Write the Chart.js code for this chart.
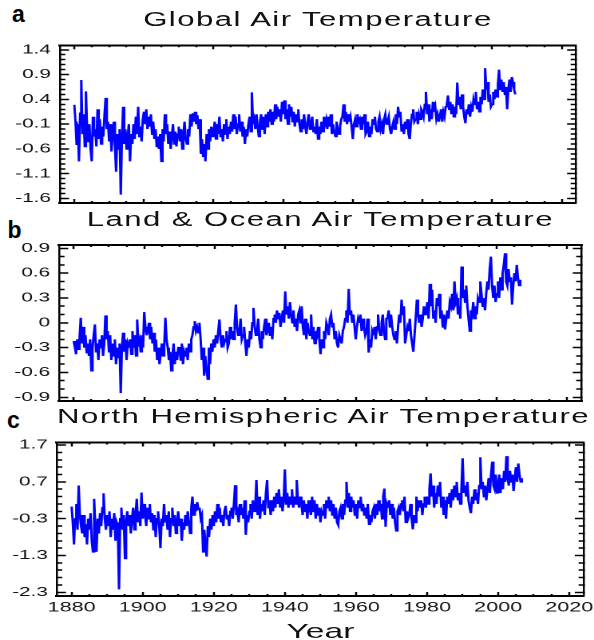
<!DOCTYPE html>
<html>
<head>
<meta charset="utf-8">
<script src="https://cdn.jsdelivr.net/npm/chart.js@4"></script>
<style>
html,body{margin:0;padding:0;background:#fff;}
body{width:594px;height:640px;position:relative;overflow:hidden;font-family:"Liberation Sans",Arial,sans-serif;}
#stretch{position:absolute;left:0;top:0;width:372px;height:640px;transform:scaleX(1.5968);transform-origin:0 0;}
.panel{position:absolute;left:0;width:372px;}
.title{position:absolute;font-size:19.5px;line-height:19.5px;letter-spacing:0.9px;text-align:center;white-space:nowrap;color:#111;}
.tag{position:absolute;font-weight:bold;font-size:23px;line-height:23px;color:#000;}
</style>
</head>
<body>
<div class="tag" style="left:12px;top:2.5px">a</div>
<div class="tag" style="left:7.5px;top:218.5px">b</div>
<div class="tag" style="left:7px;top:408.5px">c</div>
<div id="stretch">
  <div class="title" style="left:37.6px;width:323px;top:9.5px">Global Air Temperature</div>
  <div class="title" style="left:37.1px;width:327px;top:209.5px">Land &amp; Ocean Air Temperature</div>
  <div class="title" style="left:35.7px;width:330px;top:406.5px">North Hemispheric Air Temperature</div>
  <div class="panel" style="top:40px;height:170px"><canvas id="chartA"></canvas></div>
  <div class="panel" style="top:240px;height:170px"><canvas id="chartB"></canvas></div>
  <div class="panel" style="top:437px;height:203px"><canvas id="chartC"></canvas></div>
  <div class="title" style="left:35.7px;width:330px;top:620.2px;font-size:21px;line-height:21px;letter-spacing:0">Year</div>
</div>
<script>
// three samples per year, starting January 1880
const startYear = 1880;
const perYear = 3;

const globalTemp = [
 .29,-.05,-.52,-.1,-.85,.12,.79,-.3,.1,-.55,.56,-.2,-.45,-.1,-.6,-.85,.05,-.35,-.2,-.55,.2,-.4,0,-.5,-.15,-.35,.08,.43,-.2,-.05,
 -.45,-.1,-.65,-.3,-.05,-.55,-1.06,-.3,-.6,-.2,-1.52,-.4,.25,-.5,-.2,-.6,-.35,-.1,-.85,-.3,-.5,-.1,-.4,.05,-.3,.25,-.35,-.15,-.45,0,
 .15,-.1,.2,-.2,.05,-.15,.1,-.3,-.05,-.4,-.2,-.55,-.35,-.6,-.3,-.85,-.2,-.45,.1,-.3,-.1,-.5,-.25,-.6,-.35,-.1,-.5,-.25,-.55,-.3,
 -.15,-.45,-.2,-.6,-.3,-.05,-.4,-.5,-.2,-.35,.1,-.15,.12,-.05,.15,-.1,.08,-.2,0,-.7,-.4,-.75,-.5,-.85,-.3,-.6,-.2,-.45,-.15,-.35,
 -.25,-.05,-.4,-.1,-.3,.05,-.35,-.2,-.45,-.1,-.3,0,-.4,-.15,-.3,-.05,-.25,.1,-.2,.05,-.3,-.1,.1,-.25,-.05,-.35,-.15,-.5,-.2,-.35,
 -.1,.05,-.25,.54,-.1,0,-.2,.1,-.15,-.35,-.05,.1,-.2,.05,-.3,.1,-.15,.15,-.05,.2,-.1,.15,-.05,.3,0,.25,.05,.2,-.05,.35,
 .1,.38,0,.2,-.1,.3,.05,.25,-.05,.15,-.15,.1,-.05,.2,-.1,-.25,0,-.2,.1,-.15,-.3,-.05,.1,-.2,-.1,.05,-.25,-.15,-.3,0,
 -.4,-.15,-.3,-.05,-.25,.05,-.1,0,-.2,.05,-.15,.1,-.3,-.1,-.25,-.35,-.05,-.2,-.3,-.15,0,.05,.3,-.05,.15,-.1,.1,-.05,.05,-.15,
 -.4,-.1,0,-.15,.1,-.05,0,-.2,.05,-.1,.1,-.3,-.25,-.05,-.35,-.15,-.3,0,-.1,.05,-.2,-.25,-.05,.05,-.2,-.1,-.3,0,.1,-.1,
 -.05,.05,-.2,-.3,-.15,-.05,-.2,.1,-.1,.25,.05,.15,-.25,-.1,-.3,-.05,-.2,0,-.3,-.4,-.1,.1,.2,-.05,0,.15,-.1,.1,0,.2,
 .15,.05,.3,.55,.1,.3,-.05,.2,0,.35,.15,.25,0,.1,-.05,.05,.2,-.05,.15,.05,.25,.3,.48,.2,.35,.1,.3,.05,.25,.1,
 .74,.3,.45,.2,.5,.25,.05,-.08,.2,.1,.3,.05,.25,.15,.4,.3,.55,.2,.35,.15,.45,.3,.6,.4,1.03,.6,.75,.35,.5,.25,
 .3,.55,.4,.6,.45,.7,1,.6,.8,.55,.75,.5,.65,.2,.6,.8,.55,.85,.75,.6,.5
];

const landOceanTemp = [
 -.22,-.3,-.38,-.2,-.32,-.18,.06,-.25,-.05,-.3,-.15,-.36,-.25,-.4,-.2,-.58,-.3,-.15,-.02,-.35,-.25,-.45,-.2,-.3,-.15,-.4,-.25,.09,-.2,-.1,
 -.35,-.15,-.45,-.25,-.4,-.2,-.5,-.3,-.42,-.25,-.85,-.3,-.12,-.35,-.2,-.45,-.25,-.3,-.2,-.38,-.1,-.3,-.15,-.4,.04,-.25,-.2,-.35,-.15,-.3,
 .13,-.05,-.15,-.1,0,-.2,-.05,-.25,-.12,-.35,-.2,-.45,-.3,-.5,-.38,-.25,-.4,-.3,.06,-.2,-.3,-.45,-.35,-.58,-.4,-.25,-.5,-.35,-.45,-.3,
 -.3,-.45,-.25,-.5,-.35,-.4,-.3,-.45,-.25,-.35,-.2,-.15,-.05,.02,-.1,-.05,-.12,0,-.2,-.45,-.3,-.64,-.4,-.55,-.68,-.3,-.5,-.25,-.35,-.2,
 -.3,-.15,-.25,-.1,.04,-.2,-.3,-.15,-.25,-.2,-.1,-.3,-.25,-.05,-.2,-.1,-.2,0,.22,-.05,-.15,-.1,.05,-.2,-.15,-.05,-.25,-.4,-.2,-.3,
 -.1,-.2,0,.18,-.05,-.15,-.1,.05,-.2,-.3,-.1,-.2,-.05,.05,-.15,-.1,0,-.15,-.05,-.2,.05,.1,0,.15,.05,.12,-.05,.05,.15,0,
 .38,.1,.2,.05,.25,.1,0,.15,-.05,.05,-.1,.1,.15,0,.2,-.05,-.15,.05,-.2,0,-.1,-.15,.1,-.2,-.05,-.25,-.1,-.15,-.05,-.2,
 -.38,-.2,-.3,-.1,-.2,0,-.05,-.15,.05,.1,-.05,0,-.2,-.1,-.25,-.3,-.15,-.2,-.25,-.1,-.05,.05,.15,0,.41,.1,.15,0,.1,-.05,
 -.2,-.05,.05,0,.1,-.1,.05,-.05,-.15,-.1,.05,-.36,-.2,-.3,-.1,-.15,-.05,-.2,-.05,.1,-.1,-.15,0,.1,-.1,-.2,.05,.05,.15,-.05,
 .1,-.05,-.15,-.2,-.1,-.25,-.05,.1,0,.28,.1,.2,-.25,-.15,-.05,-.1,.05,-.15,-.25,-.35,-.15,.05,.28,.1,0,.1,-.05,.05,.2,.1,
 .15,.25,.05,.47,.2,.4,.05,.15,0,.3,.2,.35,.05,.15,-.05,.1,-.08,.05,.15,.05,.25,.2,.35,.15,.5,.25,.3,.1,.2,.05,
 .68,.3,.4,.25,.45,.2,.05,-.1,.15,.1,.25,.05,.2,.1,.3,.25,.5,.35,.2,.3,.15,.35,.5,.4,.65,.8,.45,.3,.45,.25,
 .35,.5,.3,.55,.4,.6,.7,.84,.5,.45,.65,.5,.55,.22,.45,.6,.5,.7,.55,.45,.52
];

const northTemp = [
 .03,-.4,-1,-.3,.1,-.6,.6,-.2,-.5,-.7,-.2,-.8,-.45,-1,-.3,-.6,-.15,-.9,-1.2,.24,-.5,-1.2,-.3,-.7,-.15,-.5,0,.39,-.3,-.6,
 -.2,-.5,-.1,-.8,-.3,-.6,-.15,-.9,-.4,-.5,-2.22,-.3,0,-.6,-.2,-1.38,-.4,-.1,-.5,-.2,-.7,-.3,0,-.6,-.2,.24,-.4,-.1,-.5,.41,
 -.3,.1,-.2,-.5,0,-.3,.1,-.4,-.15,-.6,-.2,-.8,-.3,-.1,-.5,-1.1,-.3,-.5,.1,-.4,-.2,-.6,-.1,-.8,-.3,0,-.5,-.2,-.7,-.4,
 -.1,-.5,-.3,-.9,-.4,-.6,-.2,-.5,-.1,-.4,-.7,0,.3,-.2,.1,-.1,.15,-.05,0,-.3,-.2,-1.2,-.6,-1,-1.33,-.5,-.8,-.3,-.6,-.2,
 -.5,-.1,-.4,.1,-.3,0,-.4,-.2,-.5,-.1,.05,-.3,-.2,-.5,-.1,0,-.3,.1,.61,-.2,-.1,-.4,.1,-.2,0,-.3,.2,-.74,-.2,-.4,
 -.1,.1,-.3,.2,-.1,0,.75,-.2,.3,-.3,.1,-.1,.2,-.2,.4,.75,0,.2,-.2,.2,-.1,.3,0,.4,.1,.5,0,.3,-.1,.2,
 1.04,.1,.4,0,.3,.1,.5,0,.3,.1,.75,.2,0,.3,.1,-.2,.2,-.1,.1,-.3,.2,0,-.2,.3,-.1,.2,-.3,.1,-.2,0,
 -.4,-.1,-.2,.1,-.3,.2,0,.3,-.1,.2,-.2,.1,-.3,0,-.4,-.47,-.1,0,-.3,.1,-.2,.2,.7,0,.4,-.1,.3,0,.2,-.2,
 .1,-.3,.2,0,.3,-.1,.1,-.2,0,-.3,.1,-.45,-.2,-.4,-.1,0,-.3,.1,-.2,.2,-.1,.1,-.3,.3,.52,-.52,.1,0,.2,-.2,
 .1,-.3,0,-.4,-.63,-.1,0,-.2,.1,.2,-.1,.3,-.4,-.1,-.3,-.2,.1,-.3,-.59,-.2,-.4,.3,-.1,.2,0,.2,-.2,.1,.3,0,
 .3,.1,.5,.93,.3,.6,0,.4,.1,.6,.3,.7,0,.3,-.2,.2,-.3,.3,.1,.4,0,.5,.2,.6,.3,.7,.2,.4,.1,.5,
 1.34,.4,.6,.3,.7,.2,0,-.15,.3,.1,.5,.2,.4,.1,.6,1.37,.5,.7,.3,.6,.2,.5,.8,.4,.9,1.25,.6,.5,.9,.4,
 .6,.9,.4,.8,.5,1,.7,1.4,.8,.6,1,.7,.9,.45,.8,1.1,.7,1.2,.9,.7,.8
];

const yearTicks = [1880, 1900, 1920, 1940, 1960, 1980, 2000, 2020];
const globalTicks = [1.4, 0.9, 0.4, -0.1, -0.6, -1.1, -1.6];
const landOceanTicks = [0.9, 0.6, 0.3, 0, -0.3, -0.6, -0.9];
const northTicks = [1.7, 0.7, -0.3, -1.3, -2.3];

const X_MIN = 1875.9, X_MAX = 2024.1;

function withMinor(major, step, min, max) {
  const out = [];
  const base = major[0];
  const k0 = Math.ceil((min - base) / step - 1e-9);
  const k1 = Math.floor((max - base) / step + 1e-9);
  for (let k = k0; k <= k1; k++) out.push(Math.round((base + k * step) * 1000) / 1000);
  return out;
}
function isMajor(v, major) {
  return major.some(m => Math.abs(m - v) < 1e-6);
}
const xTickValues = withMinor(yearTicks, 5, X_MIN, X_MAX);

function xScale(pos, labels) {
  return {
    type: 'linear', axis: 'x', position: pos, min: X_MIN, max: X_MAX, bounds: 'data',
    afterBuildTicks: s => { s.ticks = xTickValues.map(v => ({value: v})); },
    afterFit: s => {
      s.height = labels ? 30 : 0;
      s.paddingLeft = s.paddingRight = s.paddingTop = s.paddingBottom = 0;
    },
    border: {display: true, color: '#000', width: 2},
    grid: {
      display: true, drawOnChartArea: false, drawTicks: true, tickLength: -4,
      color: '#000', tickColor: '#000', tickWidth: 1.25,
      tickBorderDash: c => (!c.tick || isMajor(c.tick.value, yearTicks)) ? [] : (pos === 'bottom' ? [3, 100] : [0, 2, 3, 100])
    },
    ticks: {
      display: labels, autoSkip: false, minRotation: 0, maxRotation: 0, padding: 7.9, color: '#111',
      font: {family: 'Liberation Sans', size: 13.5},
      callback: v => isMajor(v, yearTicks) ? String(v) : ''
    }
  };
}

function yScale(pos, p) {
  const left = pos === 'left';
  const vals = withMinor(p.major, p.minor, p.min, p.max);
  return {
    type: 'linear', axis: 'y', position: pos, min: p.min, max: p.max, bounds: 'data',
    afterBuildTicks: s => { s.ticks = vals.map(v => ({value: v})); },
    afterFit: s => {
      s.width = left ? p.left : 0;
      s.paddingLeft = s.paddingRight = s.paddingTop = s.paddingBottom = 0;
    },
    border: {display: true, color: '#000', width: 1.25},
    grid: {
      display: true, drawOnChartArea: false, drawTicks: true, tickLength: -5.6,
      color: '#000', tickColor: '#000', tickWidth: 1.5,
      tickBorderDash: c => (!c.tick || isMajor(c.tick.value, p.major)) ? [] : (left ? [0, 2.3, 3.9, 100] : [3.9, 100])
    },
    ticks: {
      display: left, autoSkip: false, padding: 11.3, color: '#111',
      font: {family: 'Liberation Sans', size: 13},
      callback: v => isMajor(v, p.major) ? String(Math.round(v * 10) / 10) : ''
    }
  };
}

function makePanel(id, values, p) {
  const pts = values.map((v, i) => ({x: startYear + i / perYear, y: v}));
  return new Chart(document.getElementById(id), {
    type: 'line',
    data: {datasets: [{data: pts, borderColor: '#0000ff', borderWidth: 1.5, pointRadius: 0, fill: false, tension: 0}]},
    options: {
      animation: false, responsive: true, maintainAspectRatio: false, devicePixelRatio: 2,
      events: [], parsing: false, normalized: true,
      layout: {autoPadding: false, padding: {left: 0, right: p.right, top: p.top, bottom: p.bottom}},
      plugins: {legend: {display: false}, tooltip: {enabled: false}},
      scales: {
        x: xScale('bottom', p.xLabels),
        xTop: xScale('top', false),
        y: yScale('left', p),
        yRight: yScale('right', p)
      }
    }
  });
}

makePanel('chartA', globalTemp, {min: -1.69, max: 1.49, major: globalTicks, minor: 0.1,
  left: 37.6, right: 11.3, top: 5.3, bottom: 7, xLabels: false});
makePanel('chartB', landOceanTemp, {min: -0.945, max: 0.94, major: landOceanTicks, minor: 0.1,
  left: 37.1, right: 7.7, top: 5, bottom: 9, xLabels: false});
makePanel('chartC', northTemp, {min: -2.4, max: 1.77, major: northTicks, minor: 0.2,
  left: 35.7, right: 6.4, top: 5.5, bottom: 14, xLabels: true});
</script>
</body>
</html>
